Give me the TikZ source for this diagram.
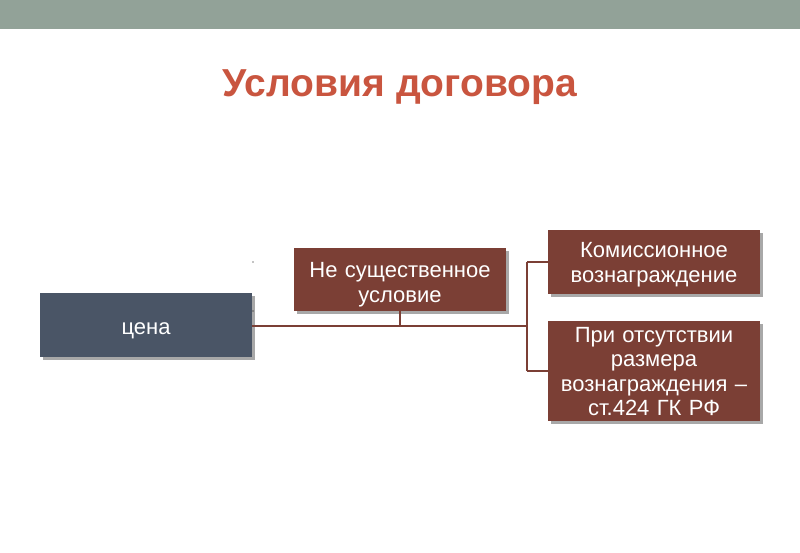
\documentclass[tikz,border=0pt]{standalone}
\usepackage{fontspec}
\setmainfont{Liberation Sans}
\definecolor{topbar}{HTML}{92A298}
\definecolor{titlered}{HTML}{C9553F}
\definecolor{boxred}{HTML}{7B3F35}
\definecolor{boxblue}{HTML}{4A5566}
\definecolor{shadowgray}{HTML}{A8A8A8}
\begin{document}
\begin{tikzpicture}[x=1pt,y=-1pt,
  box/.style={draw=none, minimum width=212pt, inner sep=0pt},
  redbox/.style={box, fill=boxred},
  bluebox/.style={box, fill=boxblue},
  boxtext/.style={text width=205pt, align=center, text=white,
    font=\fontsize{22}{24.5}\selectfont, inner sep=0pt},
  conn/.style={draw=boxred, line width=1.5pt}]
\useasboundingbox (0,0) rectangle (800,553);
\fill[topbar] (0,0) rectangle (800,29);
\node[text=titlered, font=\bfseries\fontsize{39}{44}\selectfont] (title) at (400,87) {Условия договора};
% shadows
\fill[shadowgray] (43,296) rectangle (255,360);
\fill[shadowgray] (297,251) rectangle (509,314);
\fill[shadowgray] (551,233) rectangle (763,297);
\fill[shadowgray] (551,324) rectangle (763,424);
\node[bluebox, minimum height=64pt] (price) at (146,325) {};
\node[redbox, minimum height=63pt] (nonessential) at (400,279.5) {};
\node[redbox, minimum height=64pt] (commission) at (654,262) {};
\node[redbox, minimum height=100pt] (absence) at (654,371) {};
\node[boxtext] (pricetext) at ([yshift=-6pt]price.center) {цена};
\node[boxtext] (nonesstext) at ([yshift=-5pt]nonessential.center) {Не существенное\\условие};
\node[boxtext] (commtext) at ([yshift=-2.5pt]commission.center) {Комиссионное\\вознаграждение};
\node[boxtext] (abstext) at ([yshift=-0.5pt]absence.center) {При отсутствии\\размера\\вознаграждения –\\ст.424 ГК РФ};
\coordinate (junction) at (527,326);
\coordinate (top) at (527,262);
\coordinate (bot) at (527,371);
\draw[conn] (price.east |- junction) -- (junction);
\draw[conn] (nonessential.south) -- (nonessential.south |- junction);
\draw[conn] (top) -- (bot);
\draw[conn] (top) -- (commission.west);
\draw[conn] (bot) -- (absence.west);
\fill[black] (253,262) circle (0.7pt);
\fill[black] (253,311) circle (0.7pt);
\end{tikzpicture}
\end{document}
